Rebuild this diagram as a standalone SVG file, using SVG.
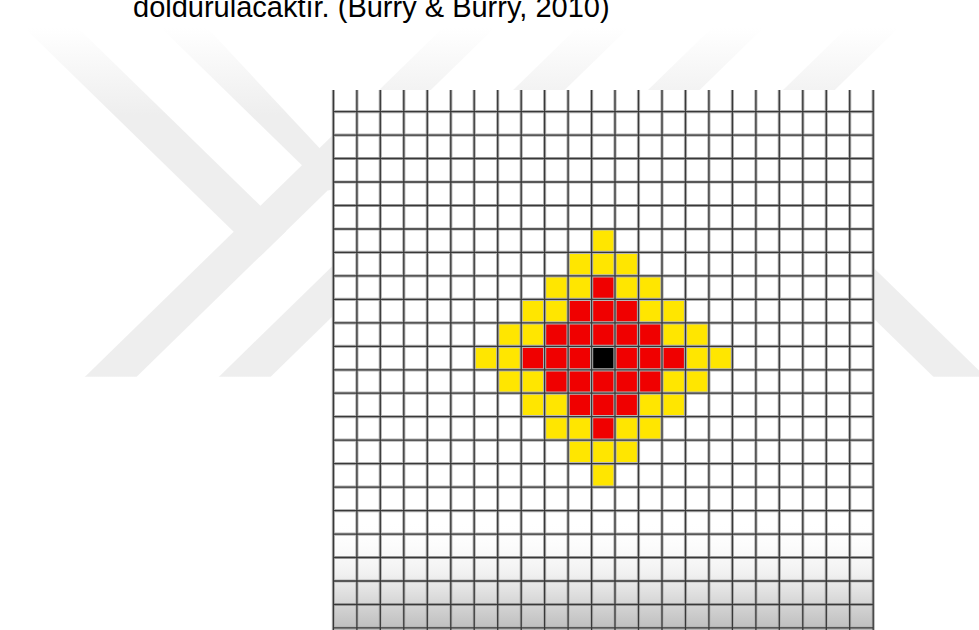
<svg xmlns="http://www.w3.org/2000/svg" width="979" height="630" viewBox="0 0 979 630">
  <style>
    .wm { fill: url(#wmFade); }
    .yel { fill: #FFE600; }
    .red { fill: #F00000; }
    .blk { fill: #000000; }
    .halo { fill: none; stroke: #b4b4b4; stroke-width: 3.2; }
    .core { fill: none; stroke: #383838; stroke-width: 1.3; }
    .cap { font-family: "Liberation Sans", Arial, sans-serif; font-size: 29px; fill: #000; }
  </style>
  <defs>
    <linearGradient id="wmFade" gradientUnits="userSpaceOnUse" x1="0" y1="28" x2="0" y2="115">
      <stop offset="0" stop-color="#ffffff"/>
      <stop offset="1" stop-color="#eeeeee"/>
    </linearGradient>
    <linearGradient id="floor" gradientUnits="userSpaceOnUse" x1="0" y1="520" x2="0" y2="630">
      <stop offset="0" stop-color="#ffffff" stop-opacity="0"/>
      <stop offset="0.5" stop-color="#f0f0f0" stop-opacity="1"/>
      <stop offset="1" stop-color="#bdbdbd" stop-opacity="1"/>
    </linearGradient>
    <clipPath id="wmClip">
      <rect x="0" y="0" width="979" height="376.7"/>
    </clipPath>
    <path id="gridPath" d="M333.4 90V630M356.9 90V630M380.3 90V630M403.8 90V630M427.3 90V630M450.8 90V630M474.2 90V630M497.7 90V630M521.2 90V630M544.6 90V630M568.1 90V630M591.6 90V630M615 90V630M638.5 90V630M662 90V630M685.5 90V630M708.9 90V630M732.4 90V630M755.9 90V630M779.3 90V630M802.8 90V630M826.3 90V630M849.7 90V630M873.2 90V630M333.4 111.6H873.2M333.4 135.1H873.2M333.4 158.5H873.2M333.4 182H873.2M333.4 205.5H873.2M333.4 229H873.2M333.4 252.4H873.2M333.4 275.9H873.2M333.4 299.4H873.2M333.4 322.8H873.2M333.4 346.3H873.2M333.4 369.8H873.2M333.4 393.2H873.2M333.4 416.7H873.2M333.4 440.2H873.2M333.4 463.7H873.2M333.4 487.1H873.2M333.4 510.6H873.2M333.4 534.1H873.2M333.4 557.5H873.2M333.4 581H873.2M333.4 604.5H873.2M333.4 627.9H873.2"/>
  </defs>

  <rect x="0" y="0" width="979" height="630" fill="#ffffff"/>

  <g id="watermark" clip-path="url(#wmClip)">
    <polygon class="wm" points="61.1,400 522.6,-50 574.3,-50 112.8,400"/>
    <polygon class="wm" points="195.1,400 656.6,-50 708.3,-50 246.8,400"/>
    <polygon class="wm" points="330.1,400 791.6,-50 843.3,-50 381.8,400"/>
    <polygon class="wm" points="465.1,400 926.6,-50 978.3,-50 516.8,400"/>
    <polygon class="wm" points="-55.4,-50 -2,-50 286.2,231 259.5,257"/>
    <polygon class="wm" points="81.3,-50 134.7,-50 354.5,185.6 327.8,190.4"/>
    <polygon class="wm" points="700.8,150 752.8,150 1009.2,400 957.2,400"/>
  </g>

  <g id="caption">
    <text class="cap" x="133" y="17">doldurulacaktır. (Burry &amp; Burry, 2010)</text>
  </g>

  <g id="grid">
    <rect x="333.4" y="90" width="539.8" height="540" fill="#ffffff"/>
    <rect x="333.4" y="520" width="539.8" height="110" fill="url(#floor)"/>
  </g>

  <g id="cells">
    <g id="yellow-ring">
      <rect class="yel" x="591.6" y="229" width="23.4" height="23.4"/>
      <rect class="yel" x="568.1" y="252.4" width="70.4" height="23.5"/>
      <rect class="yel" x="544.6" y="275.9" width="117.4" height="23.5"/>
      <rect class="yel" x="521.2" y="299.4" width="164.3" height="23.4"/>
      <rect class="yel" x="497.7" y="322.8" width="211.2" height="23.5"/>
      <rect class="yel" x="474.2" y="346.3" width="258.2" height="23.5"/>
      <rect class="yel" x="497.7" y="369.8" width="211.2" height="23.4"/>
      <rect class="yel" x="521.2" y="393.2" width="164.3" height="23.5"/>
      <rect class="yel" x="544.6" y="416.7" width="117.4" height="23.5"/>
      <rect class="yel" x="568.1" y="440.2" width="70.4" height="23.5"/>
      <rect class="yel" x="591.6" y="463.7" width="23.4" height="23.4"/>
    </g>
    <g id="red-core">
      <rect class="red" x="591.6" y="275.9" width="23.4" height="23.5"/>
      <rect class="red" x="568.1" y="299.4" width="70.4" height="23.4"/>
      <rect class="red" x="544.6" y="322.8" width="117.4" height="23.5"/>
      <rect class="red" x="521.2" y="346.3" width="164.3" height="23.5"/>
      <rect class="red" x="544.6" y="369.8" width="117.4" height="23.4"/>
      <rect class="red" x="568.1" y="393.2" width="70.4" height="23.5"/>
      <rect class="red" x="591.6" y="416.7" width="23.4" height="23.5"/>
    </g>
    <rect id="seed" class="blk" x="591.6" y="346.3" width="23.4" height="23.5"/>
  </g>

  <g id="grid-lines">
    <use href="#gridPath" class="halo"/>
    <use href="#gridPath" class="core"/>
  </g>
</svg>
